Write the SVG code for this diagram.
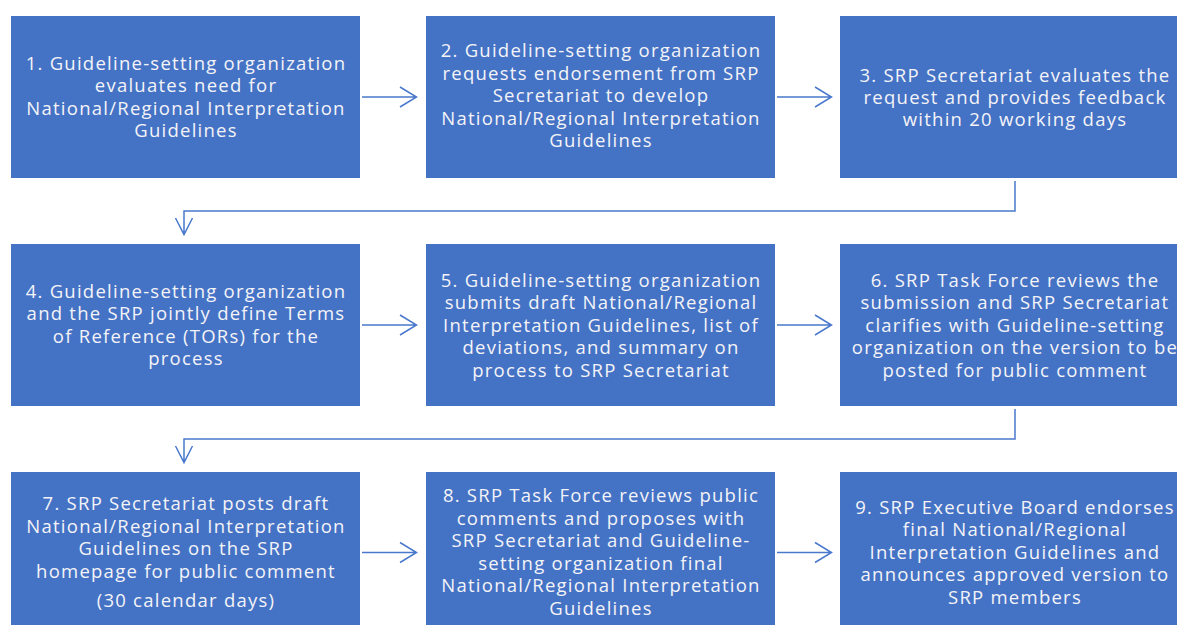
<svg xmlns="http://www.w3.org/2000/svg" width="1177" height="625" viewBox="0 0 1177 625">
<style>
.box{fill:#4472C4;}
.t{font-family:"Open Sans","Liberation Sans",sans-serif;font-size:18.5px;letter-spacing:1.25px;fill:#F4F4F8;text-anchor:middle;}
.c{fill:none;stroke:#4A78CC;stroke-width:1.5;}
</style>
<rect x="0" y="0" width="1177" height="625" fill="#FFFFFF"/>
<g id="node1">
<rect class="box" x="11" y="16" width="349" height="162"/>
<text class="t"><tspan x="186" y="70">1. Guideline-setting organization</tspan><tspan x="186" y="92.3">evaluates need for</tspan><tspan x="186" y="114.6">National/Regional Interpretation</tspan><tspan x="186" y="136.9">Guidelines</tspan></text>
</g>
<g id="node2">
<rect class="box" x="426" y="16" width="349" height="162"/>
<text class="t"><tspan x="601" y="57">2. Guideline-setting organization</tspan><tspan x="601" y="79.5">requests endorsement from SRP</tspan><tspan x="601" y="102">Secretariat to develop</tspan><tspan x="601" y="124.5">National/Regional Interpretation</tspan><tspan x="601" y="147">Guidelines</tspan></text>
</g>
<g id="node3">
<rect class="box" x="840" y="16" width="349" height="162"/>
<text class="t"><tspan x="1015" y="81.5">3. SRP Secretariat evaluates the</tspan><tspan x="1015" y="103.8">request and provides feedback</tspan><tspan x="1015" y="126.1">within 20 working days</tspan></text>
</g>
<g id="node4">
<rect class="box" x="11" y="244" width="349" height="162"/>
<text class="t"><tspan x="186" y="298">4. Guideline-setting organization</tspan><tspan x="186" y="320.3">and the SRP jointly define Terms</tspan><tspan x="186" y="342.6">of Reference (TORs) for the</tspan><tspan x="186" y="364.9">process</tspan></text>
</g>
<g id="node5">
<rect class="box" x="426" y="244" width="349" height="162"/>
<text class="t"><tspan x="601" y="286.5">5. Guideline-setting organization</tspan><tspan x="601" y="309">submits draft National/Regional</tspan><tspan x="601" y="331.5">Interpretation Guidelines, list of</tspan><tspan x="601" y="354">deviations, and summary on</tspan><tspan x="601" y="376.5">process to SRP Secretariat</tspan></text>
</g>
<g id="node6">
<rect class="box" x="840" y="244" width="349" height="162"/>
<text class="t"><tspan x="1015" y="286.5">6. SRP Task Force reviews the</tspan><tspan x="1015" y="309">submission and SRP Secretariat</tspan><tspan x="1015" y="331.5">clarifies with Guideline-setting</tspan><tspan x="1015" y="354">organization on the version to be</tspan><tspan x="1015" y="376.5">posted for public comment</tspan></text>
</g>
<g id="node7">
<rect class="box" x="11" y="472" width="349" height="162"/>
<text class="t"><tspan x="186" y="510">7. SRP Secretariat posts draft</tspan><tspan x="186" y="532.5">National/Regional Interpretation</tspan><tspan x="186" y="555">Guidelines on the SRP</tspan><tspan x="186" y="577.5">homepage for public comment</tspan><tspan x="186" y="607">(30 calendar days)</tspan></text>
</g>
<g id="node8">
<rect class="box" x="426" y="472" width="349" height="162"/>
<text class="t"><tspan x="601" y="502">8. SRP Task Force reviews public</tspan><tspan x="601" y="524.6">comments and proposes with</tspan><tspan x="601" y="547.2">SRP Secretariat and Guideline-</tspan><tspan x="601" y="569.8">setting organization final</tspan><tspan x="601" y="592.4">National/Regional Interpretation</tspan><tspan x="601" y="615">Guidelines</tspan></text>
</g>
<g id="node9">
<rect class="box" x="840" y="472" width="349" height="162"/>
<text class="t"><tspan x="1015" y="513.5">9. SRP Executive Board endorses</tspan><tspan x="1015" y="536">final National/Regional</tspan><tspan x="1015" y="558.5">Interpretation Guidelines and</tspan><tspan x="1015" y="581">announces approved version to</tspan><tspan x="1015" y="603.5">SRP members</tspan></text>
</g>
<g id="connectors">
<path class="c" d="M362 97 H416.5 M400 87 L416.5 97 L400 107"/>
<path class="c" d="M777 97 H831.5 M815 87 L831.5 97 L815 107"/>
<path class="c" d="M362 325 H416.5 M400 315 L416.5 325 L400 335"/>
<path class="c" d="M777 325 H831.5 M815 315 L831.5 325 L815 335"/>
<path class="c" d="M362 552.5 H416.5 M400 542.5 L416.5 552.5 L400 562.5"/>
<path class="c" d="M777 552.5 H831.5 M815 542.5 L831.5 552.5 L815 562.5"/>
<path class="c" d="M1015 181 V211 H184 V234.5 M175.5 218 L184 234.5 L192.5 218"/>
<path class="c" d="M1015 409 V439 H184 V462.5 M175.5 446 L184 462.5 L192.5 446"/>
</g>
</svg>
